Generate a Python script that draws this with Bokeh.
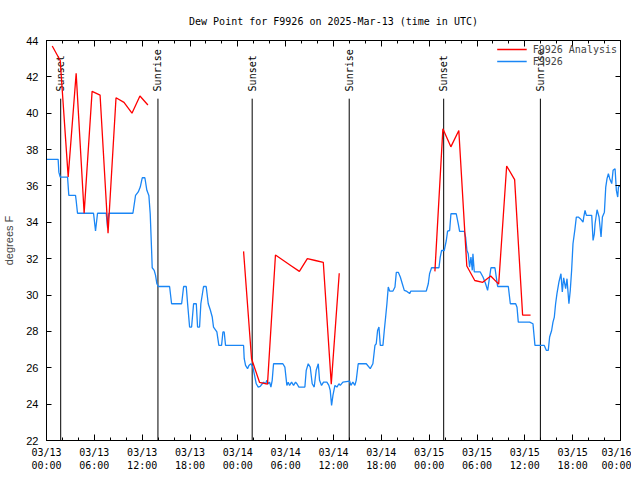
import math
from bokeh.plotting import figure
from bokeh.models import Range1d, FixedTicker, LinearAxis, Legend, LegendItem
from bokeh.embed import file_html
from bokeh.resources import INLINE
from bokeh.core.properties import value

title_text = "Dew Point for F9926 on 2025-Mar-13 (time in UTC)"
y_label = "degrees F"
obs_name = "F9926"
ana_name = "F9926 Analysis"

# x axis: hours since 2025-03-13 00:00 UTC
tick_hours = [0, 6, 12, 18, 24, 30, 36, 42, 48, 54, 60, 66, 72]
tick_labels = ["03/13\n00:00", "03/13\n06:00", "03/13\n12:00", "03/13\n18:00",
               "03/14\n00:00", "03/14\n06:00", "03/14\n12:00", "03/14\n18:00",
               "03/15\n00:00", "03/15\n06:00", "03/15\n12:00", "03/15\n18:00",
               "03/16\n00:00"]
minor_hours = [h for h in range(0, 73, 2) if h % 6 != 0]
y_ticks = [22, 24, 26, 28, 30, 32, 34, 36, 38, 40, 42, 44]

# observations (F9926)
obs_hours = [0.0, 1.46, 1.55, 1.72, 2.64, 2.80, 3.64, 3.72, 3.89, 5.90, 6.15, 6.40,
             7.49, 7.66, 7.82, 10.84, 11.17, 11.51, 11.76, 12.01, 12.34, 12.59, 12.84,
             13.01, 13.18, 13.26, 13.51, 13.68, 13.85, 14.02, 15.44, 15.69, 16.95,
             17.20, 17.53, 17.70, 17.95, 18.20, 18.45, 18.79, 18.95, 19.20, 19.36,
             19.70, 20.03, 20.29, 20.54, 20.79, 20.95, 21.37, 21.62, 21.96, 22.13,
             22.29, 22.46, 24.72, 24.80, 24.97, 25.22, 25.39, 25.64, 25.89, 26.06,
             26.31, 26.56, 26.81, 27.06, 27.23, 27.48, 27.65, 27.81, 27.98, 28.15,
             28.31, 28.48, 29.65, 29.90, 30.15, 30.32, 30.49, 30.74, 30.99, 31.24,
             31.41, 31.66, 32.41, 32.58, 32.83, 33.08, 33.33, 33.58, 33.83, 34.09,
             34.25, 34.50, 34.75, 35.17, 35.42, 35.59, 35.76, 35.93, 36.18, 36.43,
             36.68, 36.85, 37.18, 38.02, 38.18, 38.43, 38.68, 38.85, 39.10, 40.11,
             40.61, 40.94, 41.20, 41.36, 41.53, 41.70, 41.87, 42.20, 42.37, 42.54,
             42.70, 42.87, 43.04, 43.46, 43.71, 43.88, 44.13, 44.38, 44.63, 44.88,
             45.13, 45.55, 45.71, 47.64, 47.89, 48.05, 48.30, 49.23, 49.39, 49.56,
             49.89, 50.15, 50.31, 50.57, 50.73, 51.40, 51.65, 51.82, 52.41, 52.57,
             52.74, 52.90, 53.07, 53.24, 53.41, 53.49, 53.66, 54.41, 54.75, 55.08,
             55.33, 55.58, 55.75, 56.25, 56.42, 56.59, 57.93, 58.18, 58.85, 59.02,
             59.18, 60.61, 61.02, 61.27, 62.44, 62.69, 62.94, 63.11, 63.36, 63.53,
             63.70, 63.86, 64.03, 64.28, 64.53, 64.70, 64.87, 65.12, 65.29, 65.53,
             65.70, 65.87, 66.04, 66.29, 66.46, 66.71, 66.96, 67.30, 67.39, 67.55,
             67.72, 68.39, 68.56, 68.72, 68.81, 69.06, 69.31, 69.48, 69.56, 69.73,
             69.98, 70.15, 70.31, 70.48, 70.65, 70.90, 71.07, 71.32, 71.48, 71.65,
             71.74, 72.0]
obs_dewpt = [37.46, 37.46, 36.76, 36.49, 36.49, 35.48, 35.48, 35.20, 34.50, 34.50, 33.52, 34.50,
             34.50, 33.70, 34.50, 34.50, 35.48, 35.67, 35.94, 36.45, 36.45, 35.76, 35.48,
             34.47, 32.51, 31.50, 31.36, 31.08, 30.62, 30.47, 30.47, 29.52, 29.52,
             30.47, 30.47, 29.52, 28.24, 28.24, 29.52, 29.52, 28.24, 28.24, 29.52,
             30.47, 30.47, 29.52, 29.19, 28.79, 28.24, 27.97, 27.23, 27.23, 27.97,
             27.97, 27.23, 27.23, 26.50, 26.13, 25.95, 26.13, 26.22, 26.04, 25.67,
             25.12, 24.94, 24.98, 25.12, 25.21, 25.12, 25.31, 25.12, 25.21, 24.94,
             25.31, 26.22, 26.22, 26.04, 25.03, 25.21, 25.03, 25.21, 25.03, 25.21,
             25.12, 24.94, 24.94, 25.86, 26.22, 26.04, 25.12, 24.94, 25.86, 26.22,
             25.31, 25.03, 25.21, 25.21, 25.03, 24.76, 23.93, 24.48, 25.03, 24.94,
             25.12, 25.03, 25.21, 25.27, 25.03, 25.21, 25.03, 25.31, 26.22, 26.22,
             25.95, 26.22, 27.23, 27.32, 28.05, 28.24, 27.23, 27.23, 28.05, 28.79,
             29.52, 30.44, 30.22, 30.22, 30.44, 31.25, 31.25, 30.99, 30.62, 30.26,
             30.22, 30.08, 30.22, 30.22, 30.62, 31.17, 31.50, 31.50, 32.09, 32.45,
             32.45, 33.00, 33.52, 33.55, 34.47, 34.47, 33.92, 33.50, 33.50, 33.19,
             32.45, 32.27, 31.54, 32.09, 31.36, 32.27, 31.27, 31.27, 30.99, 30.62,
             30.26, 30.99, 31.50, 31.50, 30.99, 30.47, 30.47, 29.52, 29.52, 29.33,
             28.51, 28.51, 28.42, 27.23, 27.23, 26.96, 26.96, 27.69, 28.05, 28.51,
             28.79, 29.52, 30.08, 30.72, 31.17, 30.17, 30.95, 30.35, 30.90, 29.52,
             30.26, 31.36, 32.82, 33.64, 34.29, 34.29, 34.20, 34.01, 34.29, 34.66,
             34.38, 34.38, 33.00, 33.37, 33.92, 34.69, 34.29, 33.55, 33.19, 34.29,
             34.56, 35.94, 36.40, 36.68, 36.40, 36.13, 36.86, 36.95, 35.76, 35.39,
             35.94, 36.03]

nan = float("nan")
# hourly analysis values (gaps where no analysis)
ana_hours = [0.72, 1.72, 2.72, 3.72, 4.72, 5.72, 6.72, 7.72, 8.72, 9.72, 10.72, 11.72, 12.72,
             18.0,
             24.72, 25.72, 26.72, 27.72, 28.72, 29.72, 30.72, 31.72, 32.72, 33.72, 34.72,
             35.72, 36.72,
             42.0,
             48.72, 49.72, 50.72, 51.72, 52.72, 53.72, 54.72, 55.72, 56.72, 57.72, 58.72,
             59.72, 60.72]
ana_dewpt = [43.7, 42.9, 36.5, 42.2, 34.5, 41.2, 41.0, 33.4, 40.85, 40.6, 40.0, 40.95, 40.45,
             nan,
             32.4, 26.5, 25.2, 25.1, 32.2, 31.9, 31.6, 31.3, 32.0, 31.9, 31.8, 25.1, 31.2,
             nan,
             31.3, 39.15, 38.15, 39.05, 31.6, 30.8, 30.7, 31.05, 30.6, 37.1, 36.35, 28.9, 28.9]

sun_hours = [1.78, 13.98, 25.80, 37.97, 49.82, 61.95]
sun_labels = ["Sunset", "Sunrise", "Sunset", "Sunrise", "Sunset", "Sunrise"]

MONO = "DejaVu Sans Mono"
SANS = "Liberation Sans"

p = figure(title=title_text, x_range=Range1d(0, 72), y_range=Range1d(22, 44),
           frame_width=574, frame_height=400,
           min_border_left=39, min_border_right=11, min_border_top=40, min_border_bottom=30,
           output_backend="svg", toolbar_location=None, tools="")
p.title.text_font = MONO
p.title.text_font_size = "10px"
p.title.text_font_style = "normal"
p.title.align = "center"
p.title.vertical_align = "top"
p.title.text_color = "black"
p.title.standoff = 23
p.grid.visible = False
p.outline_line_color = "black"
p.outline_line_width = 1
p.background_fill_color = "white"
p.border_fill_color = "white"

xt = FixedTicker(ticks=tick_hours, minor_ticks=minor_hours)
yt = FixedTicker(ticks=y_ticks)

p.xaxis.ticker = xt
p.xaxis.major_label_overrides = {h: lab for h, lab in zip(tick_hours, tick_labels)}
p.yaxis.ticker = yt
p.yaxis.axis_label = y_label

for ax in p.xaxis:
    ax.major_label_text_font = MONO
    ax.major_label_text_font_size = "10px"
    ax.major_label_standoff = 6
for ax in p.yaxis:
    ax.major_label_text_font = SANS
    ax.major_label_text_font_size = "11px"
    ax.major_label_standoff = 8
    ax.axis_label_text_font = SANS
    ax.axis_label_text_font_size = "11px"
    ax.axis_label_text_font_style = "normal"
    ax.axis_label_standoff = 8

top_ax = LinearAxis(ticker=xt, major_label_overrides={h: "" for h in tick_hours})
right_ax = LinearAxis(ticker=yt, major_label_overrides={v: "" for v in y_ticks})
p.add_layout(top_ax, "above")
p.add_layout(right_ax, "right")

for ax in list(p.xaxis) + list(p.yaxis):
    ax.axis_line_color = "black"
    ax.major_tick_line_color = "black"
    ax.minor_tick_line_color = "black"
    ax.major_tick_in = 6
    ax.major_tick_out = 0
    ax.minor_tick_in = 3
    ax.minor_tick_out = 0
    ax.major_label_text_color = "black"
for ax in (top_ax, right_ax):
    ax.major_label_standoff = 0
for ax in p.yaxis:
    ax.major_tick_in = 5

# sunrise / sunset markers
p.segment(x0=sun_hours, y0=22, x1=sun_hours, y1=40.8, line_color="black", line_width=1)
p.text(x=sun_hours, y=41.2, text=sun_labels, angle=math.pi / 2,
       text_align="left", text_baseline="middle",
       text_font=value(MONO), text_font_size="10px", text_color="black")

r_obs = p.line(obs_hours, obs_dewpt, line_color="#1a86f5", line_width=1.3)
r_ana = p.line(ana_hours, ana_dewpt, line_color="#ff0000", line_width=1.3)

legend = Legend(items=[LegendItem(label=ana_name, renderers=[r_ana]),
                       LegendItem(label=obs_name, renderers=[r_obs])],
                location="top_right", margin=3, padding=2, spacing=0,
                border_line_color=None, background_fill_alpha=0,
                label_text_font=MONO, label_text_font_size="10px",
                glyph_width=30, glyph_height=12, label_height=12, label_standoff=6)
p.add_layout(legend)

open("out.html", "w").write(file_html(p, INLINE))
